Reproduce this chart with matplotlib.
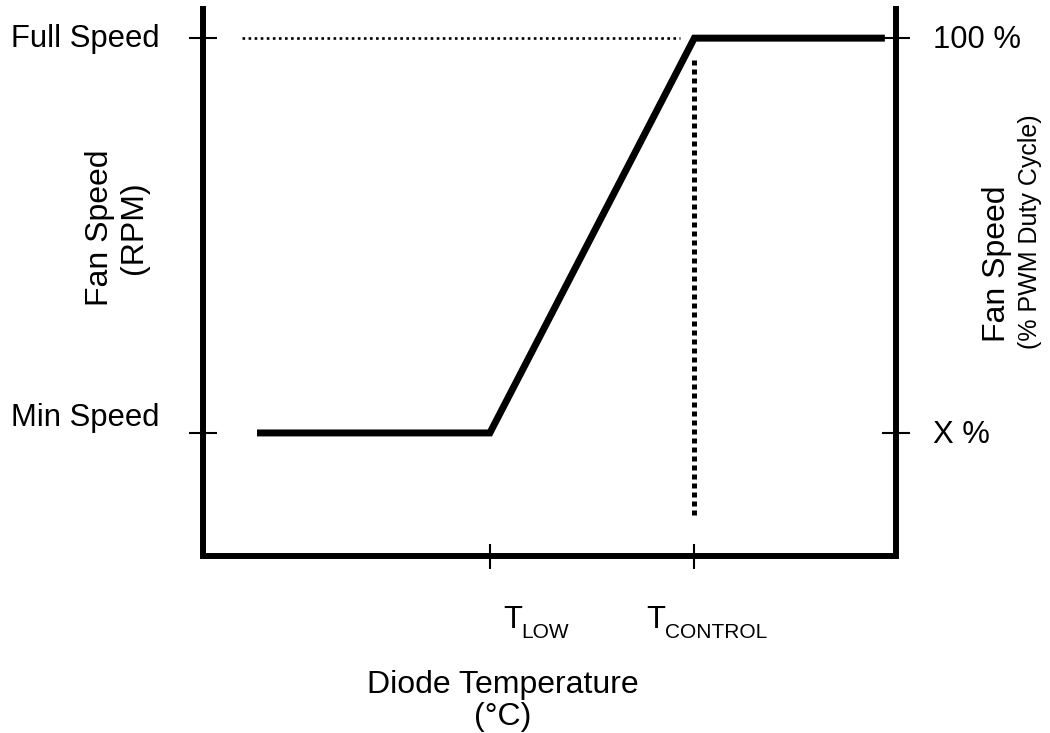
import matplotlib
matplotlib.use('Agg')
import matplotlib.pyplot as plt

plt.rcParams['font.family'] = ['Liberation Sans', 'DejaVu Sans']

# schematic units: temperature 0-100, fan speed 0-100
temp = [7.8, 41.4, 70.9, 98.4]
speed = [22.5, 22.5, 94.7, 94.7]
t_low, t_control = 41.4, 70.9
min_speed, full_speed = 22.5, 94.7
full_guide_x = [5.6, 68.8]
control_guide_y = [7.5, 90.7]

fig = plt.figure(figsize=(10.5, 7.33), dpi=100)
ax = fig.add_axes([0.1933, 0.2415, 0.66, 0.746])
ax.set_xlim(0, 100)
ax.set_ylim(0, 100)

# curve and guide lines
ax.plot(temp, speed, color='black', lw=5, solid_joinstyle='miter', solid_capstyle='butt')
ax.plot(full_guide_x, [full_speed, full_speed], color='black', lw=1.9, linestyle=(0, (1, 1.3)))
ax.plot([t_control, t_control], control_guide_y, color='black', lw=3.6, linestyle=(0, (1, 0.8)))

# spines
ax.spines['top'].set_visible(False)
for s in ['left', 'right', 'bottom']:
    ax.spines[s].set_linewidth(4.3)

ax.set_xticks([t_low, t_control])
ax.set_yticks([min_speed, full_speed])
ax.tick_params(axis='x', direction='inout', length=18, width=1.5, labelbottom=False)
ax.tick_params(axis='y', direction='inout', length=20, width=1.5, left=True, right=True,
               labelleft=False, labelright=False)

fs = 22.3
# left tick labels
ax.annotate('Full Speed', xy=(0, full_speed), xycoords=('axes fraction', 'data'),
            xytext=(-31, -6.5), textcoords='offset points', ha='right', va='baseline', fontsize=fs)
ax.annotate('Min Speed', xy=(0, min_speed), xycoords=('axes fraction', 'data'),
            xytext=(-31, 5), textcoords='offset points', ha='right', va='baseline', fontsize=fs)
# right tick labels
ax.annotate('100 %', xy=(1, full_speed), xycoords=('axes fraction', 'data'),
            xytext=(26.5, -7.2), textcoords='offset points', ha='left', va='baseline', fontsize=fs)
ax.annotate('X %', xy=(1, min_speed), xycoords=('axes fraction', 'data'),
            xytext=(26.5, -7.2), textcoords='offset points', ha='left', va='baseline', fontsize=fs)

# x tick labels: T with lowered subscript
for t, dx, sub in [(t_low, 9.4, 'LOW'), (t_control, -34.5, 'CONTROL')]:
    ax.annotate('T', xy=(t, 0), xycoords=('data', 'axes fraction'),
                xytext=(dx, -52), textcoords='offset points', ha='left', va='baseline', fontsize=fs)
    ax.annotate(sub, xy=(t, 0), xycoords=('data', 'axes fraction'),
                xytext=(dx + 13.3, -59), textcoords='offset points', ha='left', va='baseline',
                fontsize=15)

# axis titles
ft = 23
fig.text(117 / 1050, 1 - 228 / 733, 'Fan Speed\n(RPM)', rotation=90, ha='center', va='center',
         multialignment='center', fontsize=ft, linespacing=1.15)
fig.text(997 / 1050, 1 - 264 / 733, 'Fan Speed', rotation=90, ha='center', va='center', fontsize=ft)
fig.text(1030 / 1050, 1 - 232 / 733, '(% PWM Duty Cycle)', rotation=90, ha='center', va='center',
         fontsize=18)
fig.text(503 / 1050, 1 - 701 / 733, 'Diode Temperature\n(°C)', ha='center', va='center',
         multialignment='center', fontsize=ft, linespacing=1.08)

fig.savefig('out.png', dpi=100)
